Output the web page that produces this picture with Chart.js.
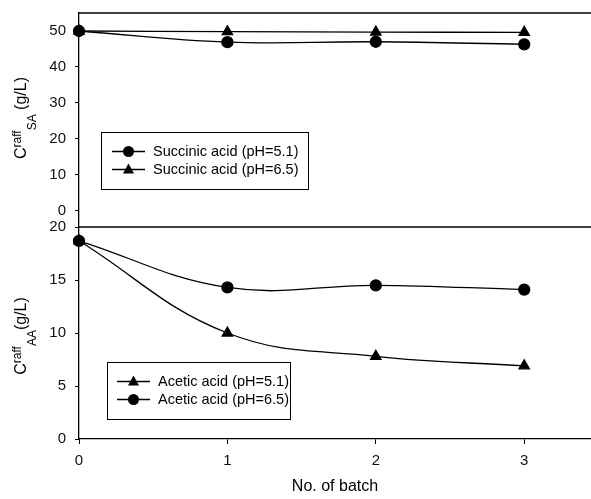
<!DOCTYPE html>
<html>
<head>
<meta charset="utf-8">
<script src="https://cdn.jsdelivr.net/npm/chart.js@4.4.0/dist/chart.umd.min.js"></script>
<style>
    html, body { margin: 0; padding: 0; background: #fff; }
    #wrap { width: 591px; height: 499px; position: relative; }
</style>
</head>
<body>
<div id="wrap"><canvas id="batchChart"></canvas></div>
<script>
// values
const batches = [0, 1, 2, 3];
const saPH51 = [50, 46.9, 47.0, 46.3];
const saPH65 = [50, 49.8, 49.7, 49.6];
const aaPH51 = [18.7, 10.0, 7.8, 6.9];
const aaPH65 = [18.7, 14.3, 14.5, 14.1];

const saTicks = [0, 10, 20, 30, 40, 50];
const aaTicks = [0, 5, 10, 15, 20];
const batchTicks = [0, 1, 2, 3];

const saLabels = ['Succinic acid (pH=5.1)', 'Succinic acid (pH=6.5)'];
const aaLabels = ['Acetic acid (pH=5.1)', 'Acetic acid (pH=6.5)'];

const FONT = "'Liberation Sans', Arial, sans-serif";

function points(ys) {
    return batches.map((x, i) => ({ x: x, y: ys[i] }));
}

function series(label, ys, axis, style) {
    return {
        label: label,
        data: points(ys),
        yAxisID: axis,
        borderColor: '#000',
        backgroundColor: '#000',
        borderWidth: 1.3,
        pointStyle: style,
        pointRadius: style === 'triangle' ? 6 : 5.5,
        tension: 0.4,
        fill: false,
        clip: false
    };
}

function fixedTicks(list) {
    return function(scale) {
        scale.ticks = list.map(v => ({ value: v }));
    };
}

const yAxisCommon = {
    type: 'linear',
    position: 'left',
    stack: 'panels',
    grid: { drawOnChartArea: false, tickLength: 4, color: '#000' },
    border: { color: '#000', width: 1.3 },
    ticks: { color: '#111', font: { family: FONT, size: 15 }, padding: 9 },
    afterFit: function(scale) {
        scale.width = 79;
        scale.paddingTop = 0;
        scale.paddingBottom = 0;
    }
};

function drawMarker(ctx, style, x, y) {
    ctx.beginPath();
    if (style === 'triangle') {
        ctx.moveTo(x, y - 6);
        ctx.lineTo(x + 5.5, y + 4);
        ctx.lineTo(x - 5.5, y + 4);
        ctx.closePath();
    } else {
        ctx.arc(x, y, 5.5, 0, Math.PI * 2);
    }
    ctx.fill();
}

function drawLegend(ctx, box, items) {
    ctx.save();
    ctx.strokeStyle = '#000';
    ctx.lineWidth = 1;
    ctx.strokeRect(box.x + 0.5, box.y + 0.5, box.w, box.h);
    ctx.font = '14.5px ' + FONT;
    ctx.textBaseline = 'middle';
    ctx.fillStyle = '#000';
    items.forEach((it, i) => {
        const y = box.row0 + i * 18;
        ctx.lineWidth = 1.3;
        ctx.beginPath();
        ctx.moveTo(box.lineX0, y);
        ctx.lineTo(box.lineX1, y);
        ctx.stroke();
        drawMarker(ctx, it.style, (box.lineX0 + box.lineX1) / 2, y);
        ctx.fillText(it.label, box.textX, y);
    });
    ctx.restore();
}

// rotated axis title with super- and subscript
function drawYTitle(ctx, x, yCenter, sup, sub, tail) {
    const big = '16px ' + FONT, small = '12px ' + FONT;
    ctx.save();
    ctx.font = big;
    const wC = ctx.measureText('C').width;
    const wTail = ctx.measureText(tail).width;
    ctx.font = small;
    const wSup = ctx.measureText(sup).width;
    const wSub = ctx.measureText(sub).width;
    const total = wC + wSup + wSub + wTail;
    ctx.translate(x, yCenter);
    ctx.rotate(-Math.PI / 2);
    ctx.fillStyle = '#000';
    ctx.textBaseline = 'alphabetic';
    let pos = -total / 2;
    ctx.font = big;
    ctx.fillText('C', pos, 0);
    pos += wC;
    ctx.font = small;
    ctx.fillText(sup, pos, -5);
    pos += wSup;
    ctx.fillText(sub, pos, 10);
    pos += wSub;
    ctx.font = big;
    ctx.fillText(tail, pos, 0);
    ctx.restore();
}

const decorPlugin = {
    id: 'decor',
    afterDraw(chart) {
        const ctx = chart.ctx;
        const area = chart.chartArea;
        const yAA = chart.scales.yAA;
        const x = chart.scales.x;

        // panel frame lines
        ctx.save();
        ctx.strokeStyle = '#000';
        ctx.lineWidth = 1.3;
        ctx.beginPath();
        ctx.moveTo(area.left, area.top);
        ctx.lineTo(area.right, area.top);
        ctx.moveTo(area.left, yAA.top);
        ctx.lineTo(area.right, yAA.top);
        ctx.stroke();
        ctx.restore();

        drawLegend(ctx, { x: 101, y: 132, w: 207, h: 57, row0: 151.5, lineX0: 112, lineX1: 145, textX: 153 }, [
            { label: saLabels[0], style: 'circle' },
            { label: saLabels[1], style: 'triangle' }
        ]);
        drawLegend(ctx, { x: 107, y: 362, w: 183, h: 57, row0: 381.5, lineX0: 117, lineX1: 150, textX: 158 }, [
            { label: aaLabels[0], style: 'triangle' },
            { label: aaLabels[1], style: 'circle' }
        ]);

        drawYTitle(ctx, 26, 118, 'raff', 'SA', ' (g/L)');
        drawYTitle(ctx, 26, 336, 'raff', 'AA', '(g/L)');

        ctx.save();
        ctx.font = '16px ' + FONT;
        ctx.fillStyle = '#000';
        ctx.textAlign = 'center';
        ctx.textBaseline = 'middle';
        ctx.fillText('No. of batch', (x.left + x.right) / 2, 487);
        ctx.restore();
    }
};

const ctx = document.getElementById('batchChart').getContext('2d');
new Chart(ctx, {
    type: 'line',
    data: {
        datasets: [
            series(saLabels[0], saPH51, 'ySA', 'circle'),
            series(saLabels[1], saPH65, 'ySA', 'triangle'),
            series(aaLabels[0], aaPH51, 'yAA', 'triangle'),
            series(aaLabels[1], aaPH65, 'yAA', 'circle')
        ]
    },
    options: {
        responsive: true,
        maintainAspectRatio: false,
        animation: false,
        layout: { autoPadding: false, padding: { top: 13, right: 0, left: 0, bottom: 0 } },
        plugins: { legend: { display: false }, tooltip: { enabled: false } },
        scales: {
            x: {
                type: 'linear',
                min: 0,
                max: 3.45,
                afterBuildTicks: fixedTicks(batchTicks),
                grid: { drawOnChartArea: false, tickLength: 5, color: '#000' },
                border: { color: '#000', width: 1.3 },
                ticks: { color: '#111', font: { family: FONT, size: 15 }, padding: 8 },
                afterFit: function(scale) {
                    scale.height = 60;
                    scale.paddingRight = 0;
                    scale.paddingLeft = 0;
                }
            },
            // in a stack the first listed axis sits at the bottom
            yAA: Object.assign({}, yAxisCommon, {
                min: 0,
                max: 20,
                stackWeight: 212,
                afterBuildTicks: fixedTicks(aaTicks)
            }),
            ySA: Object.assign({}, yAxisCommon, {
                min: -4.5,
                max: 55,
                stackWeight: 214,
                afterBuildTicks: fixedTicks(saTicks)
            })
        }
    },
    plugins: [decorPlugin]
});
</script>
</body>
</html>
